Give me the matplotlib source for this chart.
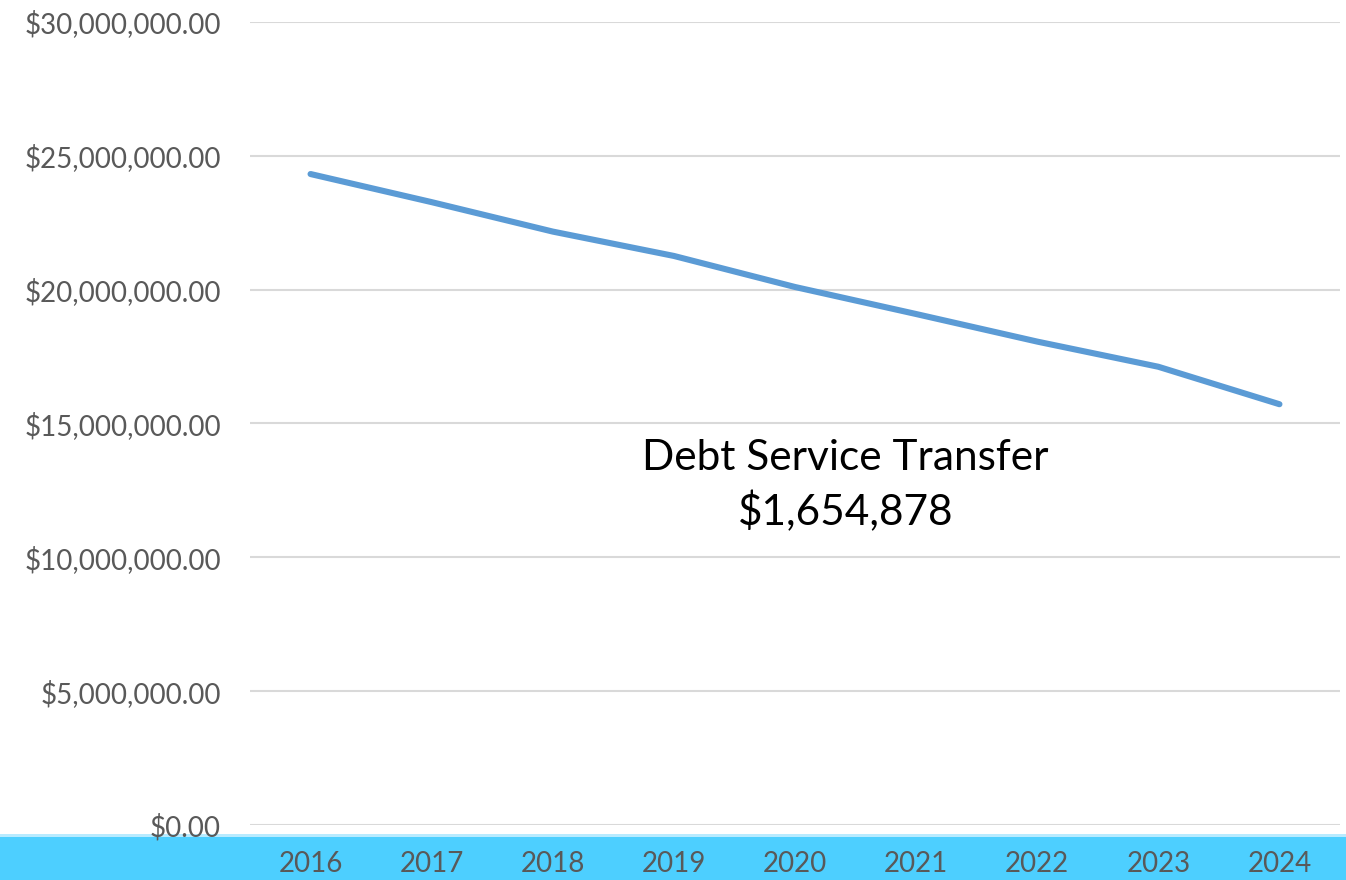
import matplotlib
matplotlib.use("Agg")
import matplotlib.pyplot as plt
from matplotlib.patches import Rectangle
from matplotlib.ticker import FuncFormatter

years = ["2016", "2017", "2018", "2019", "2020", "2021", "2022", "2023", "2024"]
values = [24.32e6, 23.27e6, 22.17e6, 21.26e6, 20.10e6, 19.09e6, 18.06e6, 17.12e6, 15.72e6]
annotation_lines = ["Debt Service Transfer", "$1,654,878"]

plt.rcParams['font.family'] = ['Lato', 'DejaVu Sans']

W, H = 1346, 880
fig = plt.figure(figsize=(W / 100, H / 100), dpi=100)
ax = fig.add_axes([250 / W, 1 - 825 / H, (1340 - 250) / W, (825 - 22) / H])
ax.set_zorder(2)

# bottom blue band
fig.patches.append(Rectangle((0, 0), 1, 45 / H, transform=fig.transFigure,
                             facecolor='#4DCFFF', edgecolor='none', zorder=-5))
fig.patches.append(Rectangle((0, 43 / H), 1, 3 / H, transform=fig.transFigure,
                             facecolor='#B8EBFF', edgecolor='none', zorder=-5))

x = list(range(len(years)))
ax.plot(x, values, color='#5B9BD5', lw=4.4, solid_capstyle='round', solid_joinstyle='round', zorder=3)

ax.set_xlim(-0.5, len(years) - 0.5)
ax.set_ylim(0, 30e6)
ax.set_yticks([i * 5e6 for i in range(7)])
ax.yaxis.set_major_formatter(FuncFormatter(lambda v, p: f"${v:,.2f}"))
ax.set_xticks(x)
ax.set_xticklabels(years)
ax.grid(axis='y', color='#D9D9D9', lw=1.5)
ax.set_axisbelow(True)
for s in ax.spines.values():
    s.set_visible(False)
ax.tick_params(axis='both', length=0, labelsize=20, colors='#595959')
ax.tick_params(axis='y', pad=21)
ax.tick_params(axis='x', pad=19)
ax.patch.set_alpha(0)

ax.text(4.417, 13.26e6, annotation_lines[0], ha='center', va='baseline', fontsize=30.5, color='black')
ax.text(4.417, 11.21e6, annotation_lines[1], ha='center', va='baseline', fontsize=30.5, color='black')

fig.savefig("out.png", dpi=100)
